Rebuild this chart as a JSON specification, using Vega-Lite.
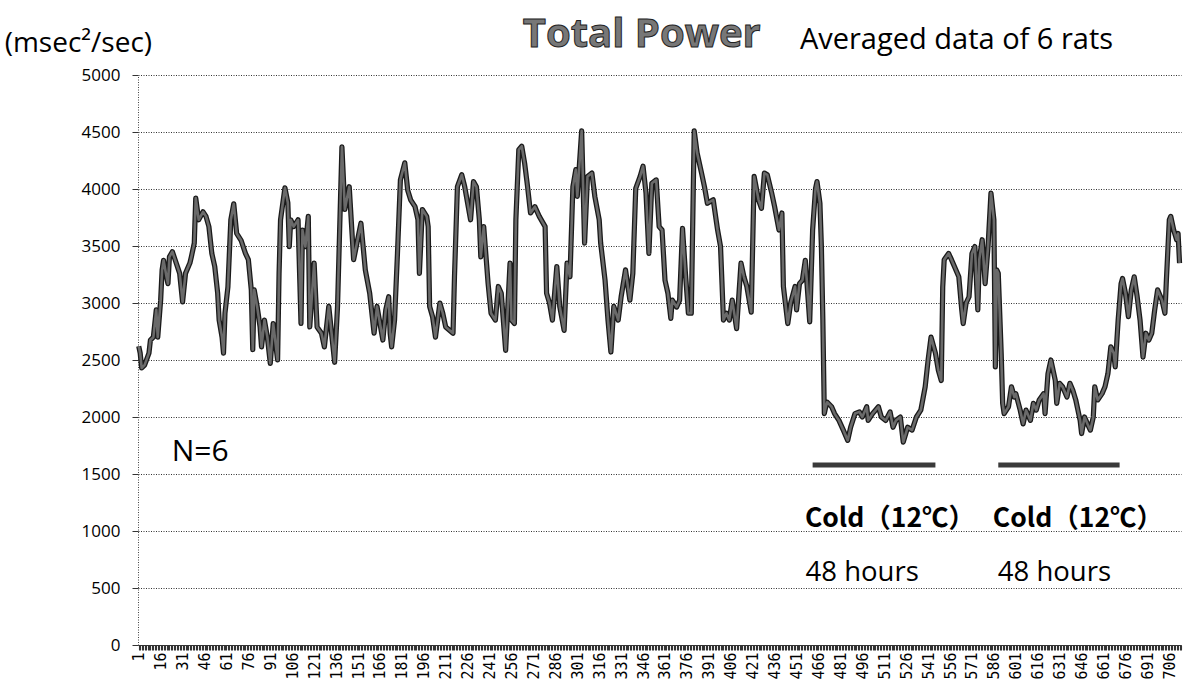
{
  "$schema": "https://vega.github.io/schema/vega-lite/v6.json",
  "width": 1043,
  "height": 570,
  "autosize": "none",
  "padding": {"left": 138, "top": 75, "right": 2, "bottom": 42},
  "background": "white",
  "config": {"view": {"stroke": null}, "font": "Open Sans"},
  "datasets": {
    "power": [
      {"i":1,"v":2620},{"i":2,"v":2560},{"i":3,"v":2430},{"i":5,"v":2455},{"i":8,"v":2560},{"i":9,"v":2675},{"i":11,"v":2700},{"i":13,"v":2940},{"i":14,"v":2700},{"i":16,"v":3025},{"i":17,"v":3290},{"i":18,"v":3375},{"i":20,"v":3230},{"i":21,"v":3170},{"i":22,"v":3405},{"i":24,"v":3450},{"i":26,"v":3375},{"i":29,"v":3260},{"i":31,"v":3010},{"i":33,"v":3260},{"i":36,"v":3350},{"i":37,"v":3405},{"i":39,"v":3525},{"i":40,"v":3920},{"i":42,"v":3730},{"i":45,"v":3800},{"i":47,"v":3760},{"i":49,"v":3670},{"i":51,"v":3435},{"i":53,"v":3320},{"i":55,"v":3085},{"i":56,"v":2850},{"i":58,"v":2700},{"i":59,"v":2560},{"i":60,"v":2910},{"i":62,"v":3140},{"i":64,"v":3730},{"i":66,"v":3870},{"i":68,"v":3610},{"i":71,"v":3550},{"i":74,"v":3435},{"i":76,"v":3380},{"i":78,"v":3115},{"i":79,"v":2590},{"i":80,"v":3115},{"i":82,"v":2970},{"i":84,"v":2790},{"i":85,"v":2615},{"i":87,"v":2850},{"i":89,"v":2700},{"i":91,"v":2470},{"i":93,"v":2820},{"i":96,"v":2500},{"i":97,"v":3260},{"i":98,"v":3730},{"i":101,"v":4010},{"i":103,"v":3880},{"i":104,"v":3495},{"i":105,"v":3730},{"i":107,"v":3670},{"i":110,"v":3730},{"i":112,"v":2820},{"i":113,"v":3640},{"i":115,"v":3495},{"i":117,"v":3760},{"i":118,"v":2790},{"i":121,"v":3350},{"i":123,"v":2790},{"i":126,"v":2735},{"i":128,"v":2615},{"i":131,"v":2970},{"i":135,"v":2480},{"i":137,"v":2970},{"i":140,"v":4370},{"i":142,"v":3820},{"i":145,"v":4020},{"i":148,"v":3380},{"i":153,"v":3700},{"i":156,"v":3290},{"i":159,"v":3085},{"i":162,"v":2735},{"i":164,"v":2970},{"i":168,"v":2675},{"i":170,"v":2940},{"i":172,"v":3055},{"i":173,"v":2733},{"i":174,"v":2615},{"i":176,"v":2850},{"i":178,"v":3435},{"i":180,"v":4080},{"i":183,"v":4230},{"i":185,"v":3990},{"i":187,"v":3905},{"i":190,"v":3845},{"i":192,"v":3730},{"i":193,"v":3260},{"i":195,"v":3820},{"i":198,"v":3760},{"i":199,"v":3670},{"i":200,"v":2970},{"i":202,"v":2880},{"i":204,"v":2700},{"i":207,"v":3000},{"i":209,"v":2910},{"i":211,"v":2790},{"i":216,"v":2735},{"i":217,"v":3230},{"i":219,"v":4020},{"i":222,"v":4125},{"i":224,"v":4020},{"i":226,"v":3875},{"i":228,"v":3730},{"i":230,"v":4065},{"i":232,"v":4020},{"i":234,"v":3730},{"i":235,"v":3405},{"i":237,"v":3670},{"i":240,"v":3170},{"i":242,"v":2910},{"i":245,"v":2850},{"i":247,"v":3145},{"i":249,"v":3085},{"i":252,"v":2585},{"i":255,"v":3350},{"i":256,"v":2850},{"i":258,"v":2820},{"i":259,"v":3730},{"i":261,"v":4345},{"i":263,"v":4375},{"i":265,"v":4225},{"i":267,"v":4020},{"i":269,"v":3790},{"i":272,"v":3845},{"i":275,"v":3760},{"i":279,"v":3670},{"i":280,"v":3085},{"i":282,"v":3000},{"i":284,"v":2850},{"i":287,"v":3320},{"i":289,"v":2970},{"i":292,"v":2760},{"i":294,"v":3350},{"i":296,"v":3230},{"i":298,"v":4020},{"i":300,"v":4170},{"i":301,"v":3935},{"i":304,"v":4510},{"i":306,"v":3525},{"i":308,"v":4110},{"i":311,"v":4140},{"i":313,"v":3935},{"i":316,"v":3730},{"i":317,"v":3525},{"i":320,"v":3200},{"i":322,"v":2850},{"i":324,"v":2570},{"i":326,"v":2970},{"i":329,"v":2850},{"i":331,"v":3055},{"i":334,"v":3290},{"i":337,"v":3025},{"i":339,"v":3260},{"i":341,"v":4005},{"i":344,"v":4110},{"i":346,"v":4200},{"i":348,"v":3965},{"i":350,"v":3435},{"i":352,"v":4050},{"i":355,"v":4080},{"i":357,"v":3670},{"i":359,"v":3640},{"i":361,"v":3200},{"i":363,"v":3085},{"i":365,"v":2865},{"i":366,"v":3025},{"i":369,"v":2965},{"i":371,"v":3025},{"i":373,"v":3655},{"i":375,"v":3260},{"i":377,"v":2910},{"i":379,"v":2910},{"i":381,"v":4510},{"i":383,"v":4315},{"i":386,"v":4140},{"i":388,"v":4020},{"i":390,"v":3875},{"i":394,"v":3905},{"i":397,"v":3640},{"i":399,"v":3495},{"i":401,"v":2850},{"i":403,"v":2910},{"i":405,"v":2850},{"i":407,"v":3025},{"i":410,"v":2775},{"i":413,"v":3350},{"i":415,"v":3230},{"i":417,"v":3145},{"i":420,"v":2920},{"i":422,"v":4110},{"i":425,"v":3905},{"i":427,"v":3830},{"i":429,"v":4140},{"i":431,"v":4125},{"i":434,"v":3965},{"i":436,"v":3845},{"i":439,"v":3640},{"i":441,"v":3790},{"i":442,"v":3145},{"i":445,"v":2820},{"i":447,"v":3000},{"i":450,"v":3145},{"i":451,"v":2940},{"i":453,"v":3170},{"i":455,"v":3200},{"i":457,"v":3375},{"i":458,"v":3200},{"i":460,"v":2835},{"i":462,"v":3640},{"i":464,"v":4005},{"i":465,"v":4065},{"i":467,"v":3875},{"i":468,"v":3495},{"i":469,"v":2850},{"i":470,"v":2030},{"i":471,"v":2090},{"i":472,"v":2130},{"i":475,"v":2090},{"i":477,"v":2030},{"i":480,"v":1970},{"i":483,"v":1885},{"i":486,"v":1795},{"i":488,"v":1910},{"i":491,"v":2030},{"i":494,"v":2045},{"i":496,"v":2000},{"i":499,"v":2090},{"i":500,"v":1970},{"i":503,"v":2030},{"i":507,"v":2090},{"i":509,"v":2000},{"i":512,"v":1970},{"i":515,"v":2045},{"i":517,"v":1910},{"i":519,"v":1970},{"i":522,"v":2000},{"i":524,"v":1780},{"i":527,"v":1910},{"i":530,"v":1885},{"i":533,"v":2000},{"i":536,"v":2060},{"i":539,"v":2265},{"i":541,"v":2500},{"i":543,"v":2700},{"i":546,"v":2560},{"i":548,"v":2410},{"i":550,"v":2320},{"i":551,"v":3140},{"i":552,"v":3380},{"i":555,"v":3435},{"i":557,"v":3380},{"i":559,"v":3320},{"i":562,"v":3230},{"i":564,"v":2940},{"i":565,"v":2820},{"i":567,"v":3000},{"i":569,"v":3055},{"i":571,"v":3435},{"i":573,"v":3495},{"i":575,"v":2940},{"i":576,"v":3380},{"i":578,"v":3555},{"i":580,"v":3170},{"i":582,"v":3495},{"i":584,"v":3965},{"i":586,"v":3730},{"i":587,"v":2440},{"i":588,"v":3290},{"i":589,"v":3260},{"i":591,"v":2560},{"i":592,"v":2120},{"i":593,"v":2030},{"i":596,"v":2090},{"i":598,"v":2265},{"i":600,"v":2175},{"i":601,"v":2205},{"i":604,"v":2060},{"i":606,"v":1940},{"i":608,"v":2060},{"i":611,"v":1970},{"i":613,"v":2120},{"i":615,"v":2060},{"i":617,"v":2150},{"i":620,"v":2205},{"i":621,"v":2030},{"i":623,"v":2380},{"i":625,"v":2500},{"i":628,"v":2320},{"i":629,"v":2120},{"i":631,"v":2295},{"i":633,"v":2265},{"i":636,"v":2175},{"i":638,"v":2295},{"i":640,"v":2235},{"i":642,"v":2150},{"i":645,"v":1970},{"i":646,"v":1855},{"i":648,"v":2000},{"i":650,"v":1940},{"i":652,"v":1885},{"i":654,"v":2000},{"i":655,"v":2265},{"i":657,"v":2150},{"i":660,"v":2205},{"i":662,"v":2265},{"i":664,"v":2380},{"i":666,"v":2615},{"i":668,"v":2560},{"i":669,"v":2440},{"i":671,"v":2850},{"i":673,"v":3170},{"i":674,"v":3215},{"i":676,"v":3085},{"i":678,"v":2880},{"i":680,"v":3115},{"i":682,"v":3230},{"i":684,"v":3055},{"i":686,"v":2850},{"i":688,"v":2525},{"i":690,"v":2735},{"i":692,"v":2675},{"i":694,"v":2735},{"i":696,"v":2940},{"i":698,"v":3115},{"i":701,"v":3025},{"i":703,"v":2910},{"i":704,"v":3200},{"i":706,"v":3730},{"i":707,"v":3760},{"i":709,"v":3640},{"i":711,"v":3555},{"i":712,"v":3610},{"i":713,"v":3350}
    ],
    "bars": [
      {"start": 462, "end": 546, "level": 1580},
      {"start": 589, "end": 672, "level": 1580}
    ]
  },
  "layer": [
    {
      "data": {"name": "power"},
      "mark": {"type": "line", "color": "#1a1a1a", "strokeWidth": 5.2, "strokeJoin": "round"},
      "encoding": {
        "x": {
          "field": "i", "type": "quantitative",
          "scale": {"domain": [0.5, 714], "nice": false, "zero": false},
          "axis": {
            "title": null, "grid": false, "tickCount": 714,
            "labelExpr": "(datum.value - 1) % 15 == 0 ? datum.label : ''",
            "labelAngle": 270, "labelFont": "DejaVu Sans Mono", "labelFontSize": 15,
            "labelColor": "#000", "labelOverlap": false, "labelBound": false, "labelFlush": false,
            "labelPadding": 2, "tickSize": 5, "tickColor": "#333", "tickWidth": 1.1,
            "domainColor": "#333", "domainWidth": 1
          }
        },
        "y": {
          "field": "v", "type": "quantitative",
          "scale": {"domain": [0, 5000], "nice": false},
          "axis": {
            "title": null, "values": [0,500,1000,1500,2000,2500,3000,3500,4000,4500,5000], "format": "d",
            "grid": true, "gridColor": "#333", "gridDash": [1, 1.5], "gridWidth": 1,
            "domainColor": "#444", "domainDash": [1, 1.5], "tickColor": "#333", "tickSize": 6,
            "labelFont": "Open Sans", "labelFontSize": 17, "labelColor": "#000", "labelPadding": 12
          }
        }
      }
    },
    {
      "data": {"name": "power"},
      "mark": {"type": "line", "color": "#6a6a6a", "strokeWidth": 2.6, "strokeJoin": "round"},
      "encoding": {
        "x": {"field": "i", "type": "quantitative"},
        "y": {"field": "v", "type": "quantitative"}
      }
    },
    {
      "data": {"name": "bars"},
      "mark": {"type": "rule", "color": "#3a3a3a", "strokeWidth": 5},
      "encoding": {
        "x": {"field": "start", "type": "quantitative"},
        "x2": {"field": "end"},
        "y": {"field": "level", "type": "quantitative"}
      }
    },
    {
      "data": {"values": [{}]},
      "mark": {"type": "text", "text": "(msec²/sec)", "align": "left", "baseline": "middle", "fontSize": 28, "font": "Open Sans", "color": "#000"},
      "encoding": {"x": {"datum": -90.7, "type": "quantitative"}, "y": {"datum": 5269, "type": "quantitative"}}
    },
    {
      "data": {"values": [{}]},
      "mark": {"type": "text", "text": "Total  Power", "align": "left", "baseline": "middle", "fontSize": 40, "fontWeight": "bold", "font": "Open Sans", "color": "#777", "stroke": "#222", "strokeWidth": 1},
      "encoding": {"x": {"datum": 263.7, "type": "quantitative"}, "y": {"datum": 5348, "type": "quantitative"}}
    },
    {
      "data": {"values": [{}]},
      "mark": {"type": "text", "text": "Averaged data of 6 rats", "align": "left", "baseline": "middle", "fontSize": 29, "font": "Open Sans", "color": "#000"},
      "encoding": {"x": {"datum": 453.3, "type": "quantitative"}, "y": {"datum": 5304, "type": "quantitative"}}
    },
    {
      "data": {"values": [{}]},
      "mark": {"type": "text", "text": "N=6", "align": "left", "baseline": "middle", "fontSize": 30, "font": "Open Sans", "color": "#000"},
      "encoding": {"x": {"datum": 23.6, "type": "quantitative"}, "y": {"datum": 1690, "type": "quantitative"}}
    },
    {
      "data": {"values": [{}]},
      "mark": {"type": "text", "text": "Cold（12℃）", "align": "left", "baseline": "middle", "fontSize": 26.5, "fontWeight": "bold", "font": "Noto Sans CJK JP", "color": "#000"},
      "encoding": {"x": {"datum": 456.7, "type": "quantitative"}, "y": {"datum": 1103, "type": "quantitative"}}
    },
    {
      "data": {"values": [{}]},
      "mark": {"type": "text", "text": "48 hours", "align": "left", "baseline": "middle", "fontSize": 27.5, "font": "Open Sans", "color": "#000"},
      "encoding": {"x": {"datum": 457.2, "type": "quantitative"}, "y": {"datum": 629, "type": "quantitative"}}
    },
    {
      "data": {"values": [{}]},
      "mark": {"type": "text", "text": "Cold（12℃）", "align": "left", "baseline": "middle", "fontSize": 26.5, "fontWeight": "bold", "font": "Noto Sans CJK JP", "color": "#000"},
      "encoding": {"x": {"datum": 585.3, "type": "quantitative"}, "y": {"datum": 1103, "type": "quantitative"}}
    },
    {
      "data": {"values": [{}]},
      "mark": {"type": "text", "text": "48 hours", "align": "left", "baseline": "middle", "fontSize": 27.5, "font": "Open Sans", "color": "#000"},
      "encoding": {"x": {"datum": 588.7, "type": "quantitative"}, "y": {"datum": 629, "type": "quantitative"}}
    }
  ]
}
